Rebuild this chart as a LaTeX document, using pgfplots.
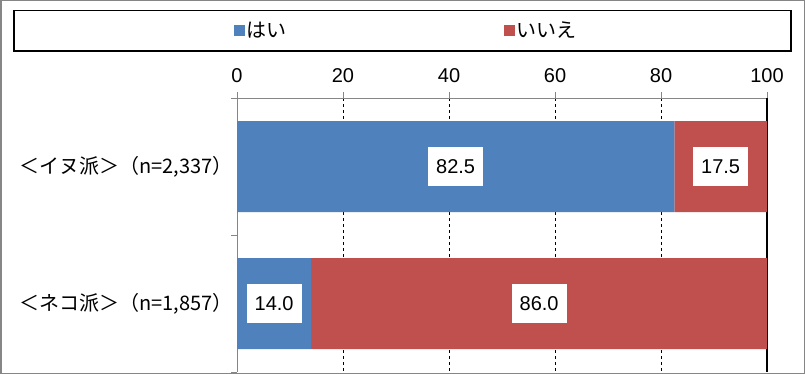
\documentclass[border=0pt]{standalone}
\usepackage{fontspec}
\setmainfont{Liberation Sans}
\newfontfamily\jp{Noto Sans CJK JP}
\usepackage{pgfplots}
\pgfplotsset{compat=1.18}
\definecolor{cblue}{HTML}{4F81BD}
\definecolor{cred}{HTML}{C0504D}
\definecolor{axgray}{HTML}{868686}
\begin{document}
\begin{tikzpicture}[x=1pt,y=1pt]
\useasboundingbox (0,0) rectangle (805,-374);
\draw[axgray, line width=1.5pt] (0.75,-0.75) rectangle (804.25,-373.25);
\draw[black, line width=1.3pt] (14,-10.5) rectangle (791,-51);
\begin{axis}[
  at={(237pt,-98pt)}, anchor=north west,
  scale only axis, width=530pt, height=274pt,
  xbar stacked, bar width=91pt,
  xmin=0, xmax=100, ymin=-0.5, ymax=1.5, y dir=reverse,
  axis x line=top, axis y line=left,
  x axis line style={-}, y axis line style={-},
  axis line style={axgray, line width=1pt},
  xtick={0,20,40,60,80,100},
  xmajorgrids, major grid style={black, dashed, line width=0.6pt},
  extra x ticks={100}, extra x tick labels={},
  extra x tick style={grid=major, major grid style={solid, black, line width=1.6pt}},
  ytick={-0.5,0.5,1.5}, yticklabels={},
  extra y ticks={0,1},
  extra y tick labels={{\jp ＜イヌ派＞（n=2,337）},{\jp ＜ネコ派＞（n=1,857）}},
  extra y tick style={major tick length=0pt, grid=none, yticklabel style={xshift=-1pt}},
  tick style={axgray, line width=1pt},
  tick align=outside, major tick length=6pt,
  /pgf/number format/assume math mode=true,
  ticklabel style={font=\fontsize{20}{24}\selectfont},
  xticklabel style={yshift=6pt},
  legend style={draw=none, fill=none, at={(0.319,1.2464)}, anchor=center,
    legend columns=2, font=\jp\fontsize{20}{24}\selectfont,
    /tikz/every even column/.append style={column sep=215pt},
    inner sep=0pt},
  legend image code/.code={\fill[#1] (0pt,-5.5pt) rectangle (11pt,5.5pt);},
  legend cell align=left,
]
\addplot[fill=cblue, draw=none] coordinates {(82.5,0) (14.0,1)};
\addlegendentry{はい}
\addplot[fill=cred, draw=none] coordinates {(17.5,0) (86.0,1)};
\addlegendentry{いいえ}
\end{axis}
\begin{axis}[
  at={(237pt,-98pt)}, anchor=north west,
  scale only axis, width=530pt, height=274pt,
  xmin=0, xmax=100, ymin=-0.5, ymax=1.5, y dir=reverse,
  hide axis, clip=false,
]
\addplot[draw=none, mark=none, nodes near coords, point meta=explicit symbolic,
  every node near coord/.append style={anchor=center, fill=white, text=black,
    inner xsep=8pt, minimum height=39pt, font=\fontsize{20}{24}\selectfont}]
  coordinates {(41.25,0) [82.5] (91.25,0) [17.5] (7.0,1) [14.0] (57.0,1) [86.0]};
\end{axis}
\end{tikzpicture}
\end{document}
